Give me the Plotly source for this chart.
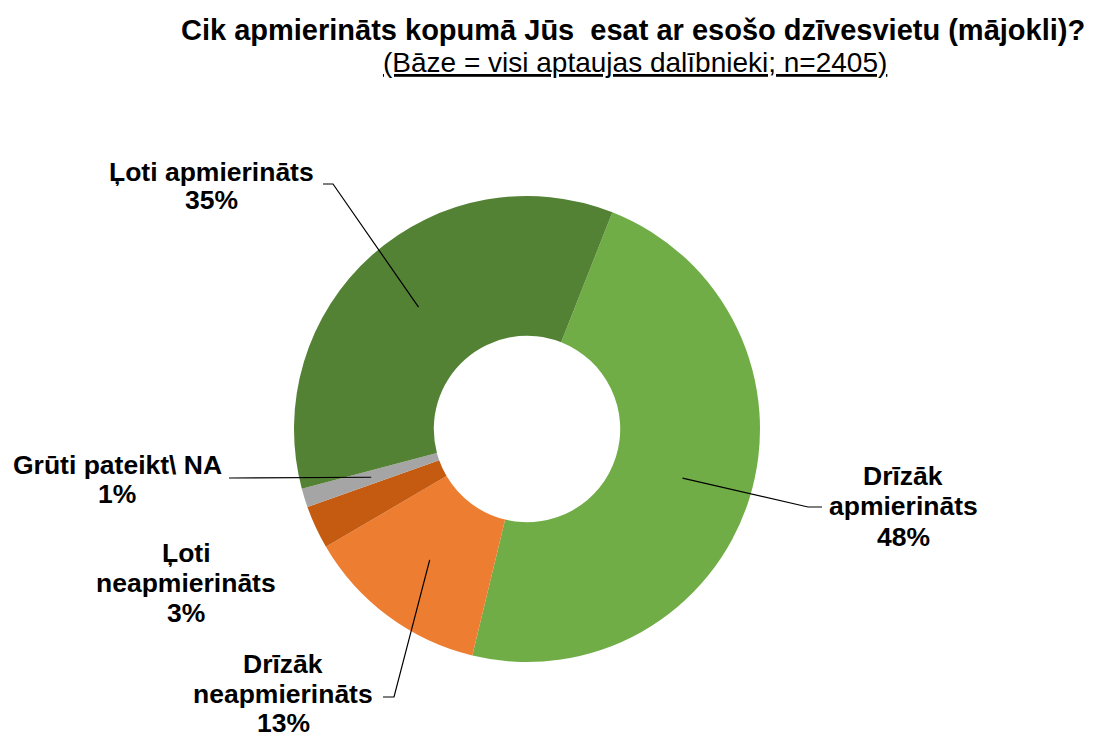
import math
import plotly.graph_objects as go

# ---- data ----
categories = ["Drīzāk apmierināts", "Drīzāk neapmierināts", "Ļoti neapmierināts",
              "Grūti pateikt\\ NA", "Ļoti apmierināts"]
values = [47.8, 12.8, 3.0, 1.3, 35.1]
colors = ["#70AD47", "#ED7D31", "#C55A11", "#A5A5A5", "#548235"]
label_lines = [["Drīzāk", "apmierināts"], ["Drīzāk", "neapmierināts"], ["Ļoti", "neapmierināts"],
               ["Grūti pateikt\\ NA"], ["Ļoti apmierināts"]]
title = "Cik apmierināts kopumā Jūs  esat ar esošo dzīvesvietu (mājokli)?"
subtitle = "(Bāze = visi aptaujas dalībnieki; n=2405)"

W, H = 1096, 740
OFF = 8  # page body margin
FONT = "Liberation Sans, Arial, sans-serif"

# layout of the donut (pixels in the screenshot)
cx, cy, R = 527, 429, 233
hole = 0.40
rotation = 21.5

def px(x):
    return (x - OFF) / W

def py(y):
    return 1 - (y - OFF) / H

fig = go.Figure(go.Pie(
    labels=categories, values=values, sort=False, direction="clockwise",
    rotation=rotation, hole=hole, textinfo="none", hoverinfo="label+percent",
    marker=dict(colors=colors, line=dict(width=0)),
    domain=dict(x=[px(cx - R), px(cx + R)], y=[py(cy + R), py(cy - R)]),
    showlegend=False,
))

# label positions (x centre, y of first line, pixels), line gap, and elbow points for leader lines
label_pos = [(903, 476), (283, 664), (186, 553), (117, 465), (211, 172)]
line_gaps = [30.5, 29.5, 30.0, 29.0, 28.5]
elbows = [[(822, 507), (808, 507)], [(383, 697), (394, 697)], None,
          [(229, 478)], [(323, 184), (333, 184)]]

total = sum(values)
ang = rotation
shapes = []
annotations = []
for i, v in enumerate(values):
    span = v / total * 360
    mid = math.radians(ang + span / 2)
    ang += span
    r_tip = R * 0.70
    tx, ty = cx + r_tip * math.sin(mid), cy - r_tip * math.cos(mid)
    pct = round(v / total * 100)
    lines = label_lines[i] + [f"{pct}%"]
    lx, ly = label_pos[i]
    for k, t in enumerate(lines):
        annotations.append(dict(
            x=px(lx), y=py(ly + k * line_gaps[i]), xref="paper", yref="paper", text=f"<b>{t}</b>",
            showarrow=False, align="center", xanchor="center", yanchor="middle",
            font=dict(family=FONT, size=26.5, color="#000000")))
    if elbows[i]:
        pts = elbows[i] + [(tx, ty)]
        path = "M " + " L ".join(f"{px(x)},{py(y)}" for x, y in pts)
        shapes.append(dict(type="path", path=path, xref="paper", yref="paper",
                           line=dict(color="#000000", width=1.2)))

annotations.append(dict(x=px(633), y=py(30), xref="paper", yref="paper",
                        text=f"<b>{title}</b>", showarrow=False, xanchor="center", yanchor="middle",
                        font=dict(family=FONT, size=29, color="#000000")))
annotations.append(dict(x=px(635), y=py(62), xref="paper", yref="paper",
                        text=("<span style=\"text-decoration:underline;"
                              f"text-decoration-skip-ink:none\">{subtitle}</span>"),
                        showarrow=False, xanchor="center", yanchor="middle",
                        font=dict(family=FONT, size=28, color="#000000")))

fig.update_layout(
    width=W, height=H, margin=dict(l=0, r=0, t=0, b=0),
    paper_bgcolor="white", plot_bgcolor="white",
    shapes=shapes, annotations=annotations,
)

fig.write_html("out.html")
